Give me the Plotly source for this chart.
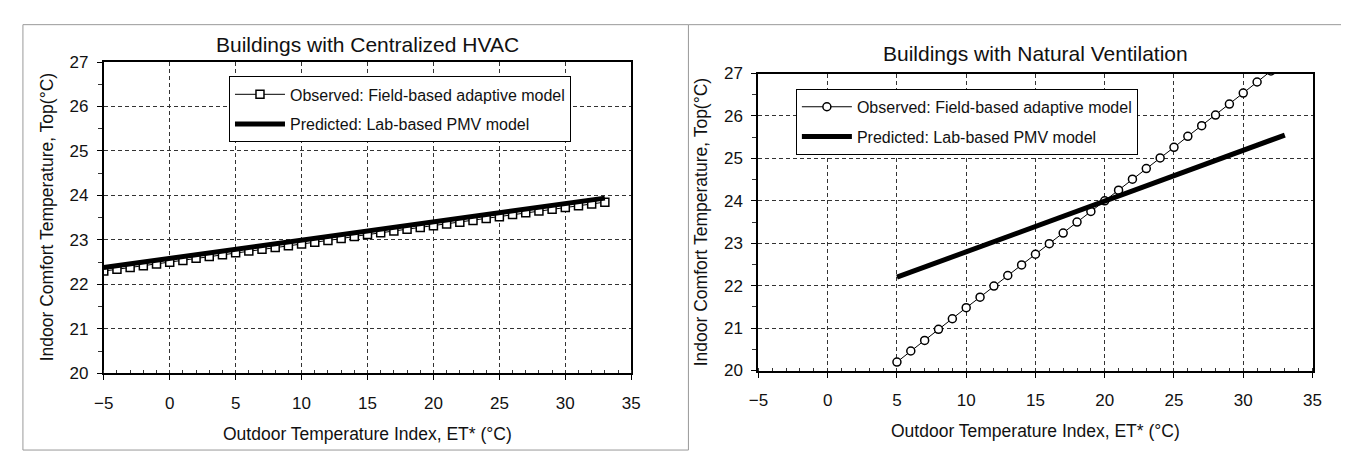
import plotly.graph_objects as go

W, H = 1349, 453

# ---------------- data ----------------
hvac_et = [-5, -4, -3, -2, -1, 0, 1, 2, 3, 4, 5, 6, 7, 8, 9, 10, 11, 12, 13, 14,
           15, 16, 17, 18, 19, 20, 21, 22, 23, 24, 25, 26, 27, 28, 29, 30, 31, 32, 33]
hvac_observed = [22.30, 22.34, 22.38, 22.42, 22.46, 22.50, 22.54, 22.59, 22.63, 22.67,
                 22.71, 22.75, 22.79, 22.83, 22.87, 22.91, 22.95, 22.99, 23.03, 23.08,
                 23.12, 23.16, 23.20, 23.24, 23.28, 23.32, 23.36, 23.40, 23.44, 23.48,
                 23.52, 23.57, 23.61, 23.65, 23.69, 23.73, 23.77, 23.81, 23.85]
hvac_pred_et = [-5, 33]
hvac_predicted = [22.38, 23.94]

nv_et = [5, 6, 7, 8, 9, 10, 11, 12, 13, 14, 15, 16, 17, 18, 19, 20, 21, 22, 23, 24,
         25, 26, 27, 28, 29, 30, 31, 32, 33]
nv_observed = [20.20, 20.46, 20.71, 20.97, 21.22, 21.48, 21.73, 21.99, 22.24, 22.49,
               22.74, 22.99, 23.24, 23.50, 23.75, 24.00, 24.25, 24.51, 24.76, 25.01,
               25.26, 25.52, 25.77, 26.02, 26.28, 26.54, 26.80, 27.06, 27.32]
nv_pred_et = [5, 33]
nv_predicted = [22.20, 25.55]

titles = ["Buildings with Centralized HVAC", "Buildings with Natural Ventilation"]
obs_name = "Observed: Field-based adaptive model"
pred_name = "Predicted: Lab-based PMV model"
x_title = "Outdoor Temperature Index, ET* (°C)"
y_title = "Indoor Comfort Temperature, Top(°C)"

FONT = "Liberation Sans, Arial, Helvetica, sans-serif"


def px(x):
    return x / W


def py(y):
    return 1 - y / H


fig = go.Figure()

# left panel
fig.add_trace(go.Scatter(
    x=hvac_et, y=hvac_observed, mode="lines+markers", name=obs_name,
    line=dict(color="black", width=1),
    marker=dict(symbol="square", size=8, color="white", line=dict(color="black", width=1.5)),
    xaxis="x", yaxis="y", legend="legend", legendgroup="a"))
fig.add_trace(go.Scatter(
    x=hvac_pred_et, y=hvac_predicted, mode="lines", name=pred_name,
    line=dict(color="black", width=5),
    xaxis="x", yaxis="y", legend="legend", legendgroup="b"))

# right panel
fig.add_trace(go.Scatter(
    x=nv_et, y=nv_observed, mode="lines+markers", name=obs_name,
    line=dict(color="black", width=1),
    marker=dict(symbol="circle", size=8, color="white", line=dict(color="black", width=1.5)),
    xaxis="x2", yaxis="y2", legend="legend2", legendgroup="c"))
fig.add_trace(go.Scatter(
    x=nv_pred_et, y=nv_predicted, mode="lines", name=pred_name,
    line=dict(color="black", width=5),
    xaxis="x2", yaxis="y2", legend="legend2", legendgroup="d"))

panels = {
    "left": dict(x0=87, x1=622, y0=47, y1=372),
    "right": dict(x0=751, x1=1313, y0=59, y1=369),
}

GRID = dict(showgrid=True, gridcolor="#333", gridwidth=1, griddash="4px,3px")


def xaxis(dom, anchor):
    return dict(
        domain=[px(dom["x0"]), px(dom["x1"])], anchor=anchor,
        range=[-5, 35], dtick=5, tick0=0,
        showline=True, linecolor="black", linewidth=2, mirror=True,
        ticks="outside", ticklen=5, tickcolor="black", tickwidth=1,
        ticklabelstandoff=8,
        minor=dict(dtick=1, ticks="inside", ticklen=3, tickcolor="#333", showgrid=False),
        tickfont=dict(family=FONT, size=17, color="#111"),
        zeroline=False, fixedrange=True, **GRID,
    )


def yaxis(dom, anchor):
    return dict(
        domain=[py(dom["y1"]), py(dom["y0"])], anchor=anchor,
        range=[20, 27], dtick=1,
        showline=True, linecolor="black", linewidth=2, mirror=True,
        ticks="outside", ticklen=5, tickcolor="black", tickwidth=1,
        ticklabelstandoff=5,
        minor=dict(dtick=0.5, ticks="outside", ticklen=4, tickcolor="#333", showgrid=False),
        tickfont=dict(family=FONT, size=17, color="#111"),
        zeroline=False, fixedrange=True, **GRID,
    )


L, R = panels["left"], panels["right"]

annotations = []
for dom, title, ty in ((L, titles[0], 29), (R, titles[1], 38)):
    cx = (dom["x0"] + dom["x1"]) / 2
    annotations.append(dict(
        text=title, x=px(cx), y=py(ty), xref="paper", yref="paper",
        showarrow=False, xanchor="center", yanchor="middle",
        font=dict(family=FONT, size=21, color="#111")))
    annotations.append(dict(
        text=x_title, x=px(cx), y=py(dom["y1"] + 63), xref="paper", yref="paper",
        showarrow=False, xanchor="center", yanchor="middle",
        font=dict(family=FONT, size=17.5, color="#111")))
    annotations.append(dict(
        text=y_title, x=px(dom["x0"] - 58), y=py((dom["y0"] + dom["y1"]) / 2),
        xref="paper", yref="paper", textangle=-90,
        showarrow=False, xanchor="center", yanchor="middle",
        font=dict(family=FONT, size=17.5, color="#111")))

legend_common = dict(
    bgcolor="white", bordercolor="black", borderwidth=1,
    font=dict(family=FONT, size=16, color="#111"),
    traceorder="grouped", tracegroupgap=6,
    xanchor="left", yanchor="top", itemclick=False, itemdoubleclick=False,
    itemwidth=50,
)

fig.update_layout(
    width=W, height=H, autosize=False,
    margin=dict(l=0, r=0, t=0, b=0),
    paper_bgcolor="white", plot_bgcolor="white",
    font=dict(family=FONT, color="#111"),
    xaxis=xaxis(L, "y"), yaxis=yaxis(L, "x"),
    xaxis2=xaxis(R, "y2"), yaxis2=yaxis(R, "x2"),
    legend=dict(x=px(214), y=py(62), **legend_common),
    legend2=dict(x=px(789), y=py(75), **legend_common),
    annotations=annotations,
    shapes=[
        dict(type="rect", xref="paper", yref="paper",
             x0=px(5), x1=px(680), y0=py(452), y1=py(8),
             line=dict(color="#999", width=1)),
        dict(type="line", xref="paper", yref="paper",
             x0=px(680), x1=px(1349), y0=py(8), y1=py(8),
             line=dict(color="#999", width=1)),
    ],
    showlegend=True,
)

fig.write_html("out.html")
